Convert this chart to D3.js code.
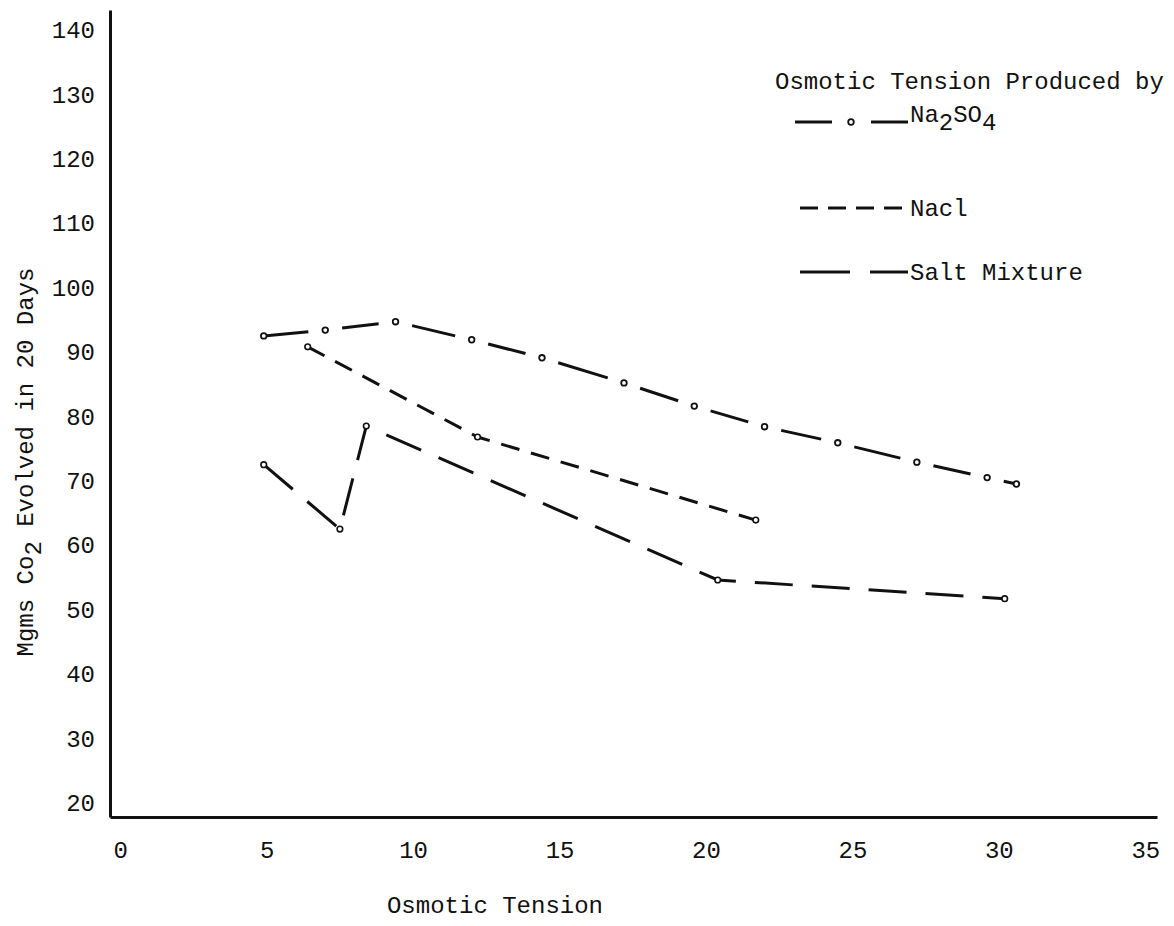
<!DOCTYPE html>
<html><head><meta charset="utf-8">
<script src="https://cdn.jsdelivr.net/npm/d3@7/dist/d3.min.js"></script>
<style>
html,body{margin:0;padding:0;background:#fff;}
text{font-family:"Liberation Mono","DejaVu Sans Mono",monospace;fill:#111;}
</style></head>
<body><svg id="c" width="1174" height="926"></svg>
<script>
// ---- data ----
const xTicks = [0,5,10,15,20,25,30,35];
const yTicks = [20,30,40,50,60,70,80,90,100,110,120,130,140];
const na2so4X = [4.9,7.0,9.4,12.0,14.4,17.2,19.6,22.0,24.5,27.2,29.6,30.6];
const na2so4Y = [92.5,93.4,94.7,91.9,89.1,85.2,81.6,78.4,75.9,72.9,70.5,69.5];
const naclX = [6.4,12.2,21.7];
const naclY = [90.8,76.8,63.9];
const saltX = [4.9,7.5,8.4,20.4,30.2];
const saltY = [72.5,62.5,78.5,54.6,51.7];
const legendTitle = "Osmotic Tension Produced by";
const legendNames = ["Na2SO4","Nacl","Salt Mixture"];
const xTitle = "Osmotic Tension";

const svg = d3.select("#c");
const x = d3.scaleLinear().domain([-0.35,35.4]).range([110,1157]);
const y = d3.scaleLinear().domain([17.8,143.1]).range([817,10]);

// axes
const ya = svg.append("g").attr("transform",`translate(${x(-0.35)},0)`)
  .call(d3.axisLeft(y).tickValues(yTicks).tickSize(0).tickPadding(15).tickFormat(d3.format("d")));
const xa = svg.append("g").attr("transform",`translate(0,${y(17.8)})`)
  .call(d3.axisBottom(x).tickValues(xTicks).tickSize(0).tickPadding(24).tickFormat(d3.format("d")));
[ya,xa].forEach(g=>{
  g.select(".domain").attr("stroke","#111").attr("stroke-width",3);
  g.selectAll("text").attr("font-size",24).attr("font-family","Liberation Mono").attr("fill","#111");
});

// axis titles
svg.append("text").attr("x",495).attr("y",913).attr("text-anchor","middle")
  .attr("font-size",24).text(xTitle);
const yt = svg.append("text").attr("transform","translate(33,462) rotate(-90)")
  .attr("text-anchor","middle").attr("font-size",24);
yt.append("tspan").text("Mgms Co");
yt.append("tspan").attr("baseline-shift","-35%").text("2");
yt.append("tspan").text(" Evolved in 20 Days");

const lineGen = d3.line().x(d=>x(d[0])).y(d=>y(d[1]));

// Na2SO4: dash-dot, segments broken around points
const nsPts = na2so4X.map((v,i)=>[v,na2so4Y[i]]);
const g1 = svg.append("g");
for(let i=0;i<nsPts.length-1;i++){
  const a=[x(nsPts[i][0]),y(nsPts[i][1])], b=[x(nsPts[i+1][0]),y(nsPts[i+1][1])];
  const L=Math.hypot(b[0]-a[0],b[1]-a[1]);
  let gs = i===0?0:17, ge = i===nsPts.length-2?0:17;
  if(L-gs-ge<8){gs=L*0.5;ge=0;}
  const ux=(b[0]-a[0])/L, uy=(b[1]-a[1])/L;
  g1.append("line").attr("x1",a[0]+ux*gs).attr("y1",a[1]+uy*gs)
    .attr("x2",b[0]-ux*ge).attr("y2",b[1]-uy*ge)
    .attr("stroke","#111").attr("stroke-width",3);
}
g1.selectAll("circle").data(nsPts).join("circle")
  .attr("cx",d=>x(d[0])).attr("cy",d=>y(d[1])).attr("r",2.8)
  .attr("fill","#fff").attr("stroke","#111").attr("stroke-width",1.8);

// NaCl
const ncPts = naclX.map((v,i)=>[v,naclY[i]]);
svg.append("path").attr("d",lineGen(ncPts)).attr("fill","none")
  .attr("stroke","#111").attr("stroke-width",3).attr("stroke-dasharray","19,12");
svg.append("g").selectAll("circle").data(ncPts).join("circle")
  .attr("cx",d=>x(d[0])).attr("cy",d=>y(d[1])).attr("r",2.8)
  .attr("fill","#fff").attr("stroke","#111").attr("stroke-width",1.6);

// Salt mixture
const smPts = saltX.map((v,i)=>[v,saltY[i]]);
svg.append("path").attr("d",lineGen(smPts)).attr("fill","none")
  .attr("stroke","#111").attr("stroke-width",3).attr("stroke-dasharray","38,19");
svg.append("g").selectAll("circle").data(smPts).join("circle")
  .attr("cx",d=>x(d[0])).attr("cy",d=>y(d[1])).attr("r",2.8)
  .attr("fill","#fff").attr("stroke","#111").attr("stroke-width",1.6);

// legend
const lg = svg.append("g");
lg.append("text").attr("x",775).attr("y",89).attr("font-size",24).text(legendTitle);
const rowsY=[122,208,272];
// Na2SO4 sample
lg.append("line").attr("x1",795).attr("x2",908).attr("y1",rowsY[0]).attr("y2",rowsY[0])
  .attr("stroke","#111").attr("stroke-width",3).attr("stroke-dasharray","37,39");
lg.append("circle").attr("cx",851).attr("cy",rowsY[0]).attr("r",2.8).attr("fill","#fff")
  .attr("stroke","#111").attr("stroke-width",1.8);
// NaCl sample
lg.append("line").attr("x1",800).attr("x2",908).attr("y1",rowsY[1]).attr("y2",rowsY[1])
  .attr("stroke","#111").attr("stroke-width",3).attr("stroke-dasharray","18,10");
// Salt sample
lg.append("line").attr("x1",800).attr("x2",908).attr("y1",rowsY[2]).attr("y2",rowsY[2])
  .attr("stroke","#111").attr("stroke-width",3).attr("stroke-dasharray","50,20");

const t1 = lg.append("text").attr("x",910).attr("y",rowsY[0]).attr("font-size",24);
t1.append("tspan").text(legendNames[0].slice(0,2));
t1.append("tspan").attr("baseline-shift","-35%").text(legendNames[0][2]);
t1.append("tspan").attr("baseline-shift","0").text(legendNames[0].slice(3,5));
t1.append("tspan").attr("baseline-shift","-35%").text(legendNames[0][5]);
lg.append("text").attr("x",910).attr("y",rowsY[1]+8).attr("font-size",24).text(legendNames[1]);
lg.append("text").attr("x",910).attr("y",rowsY[2]+8).attr("font-size",24).text(legendNames[2]);
</script></body></html>
